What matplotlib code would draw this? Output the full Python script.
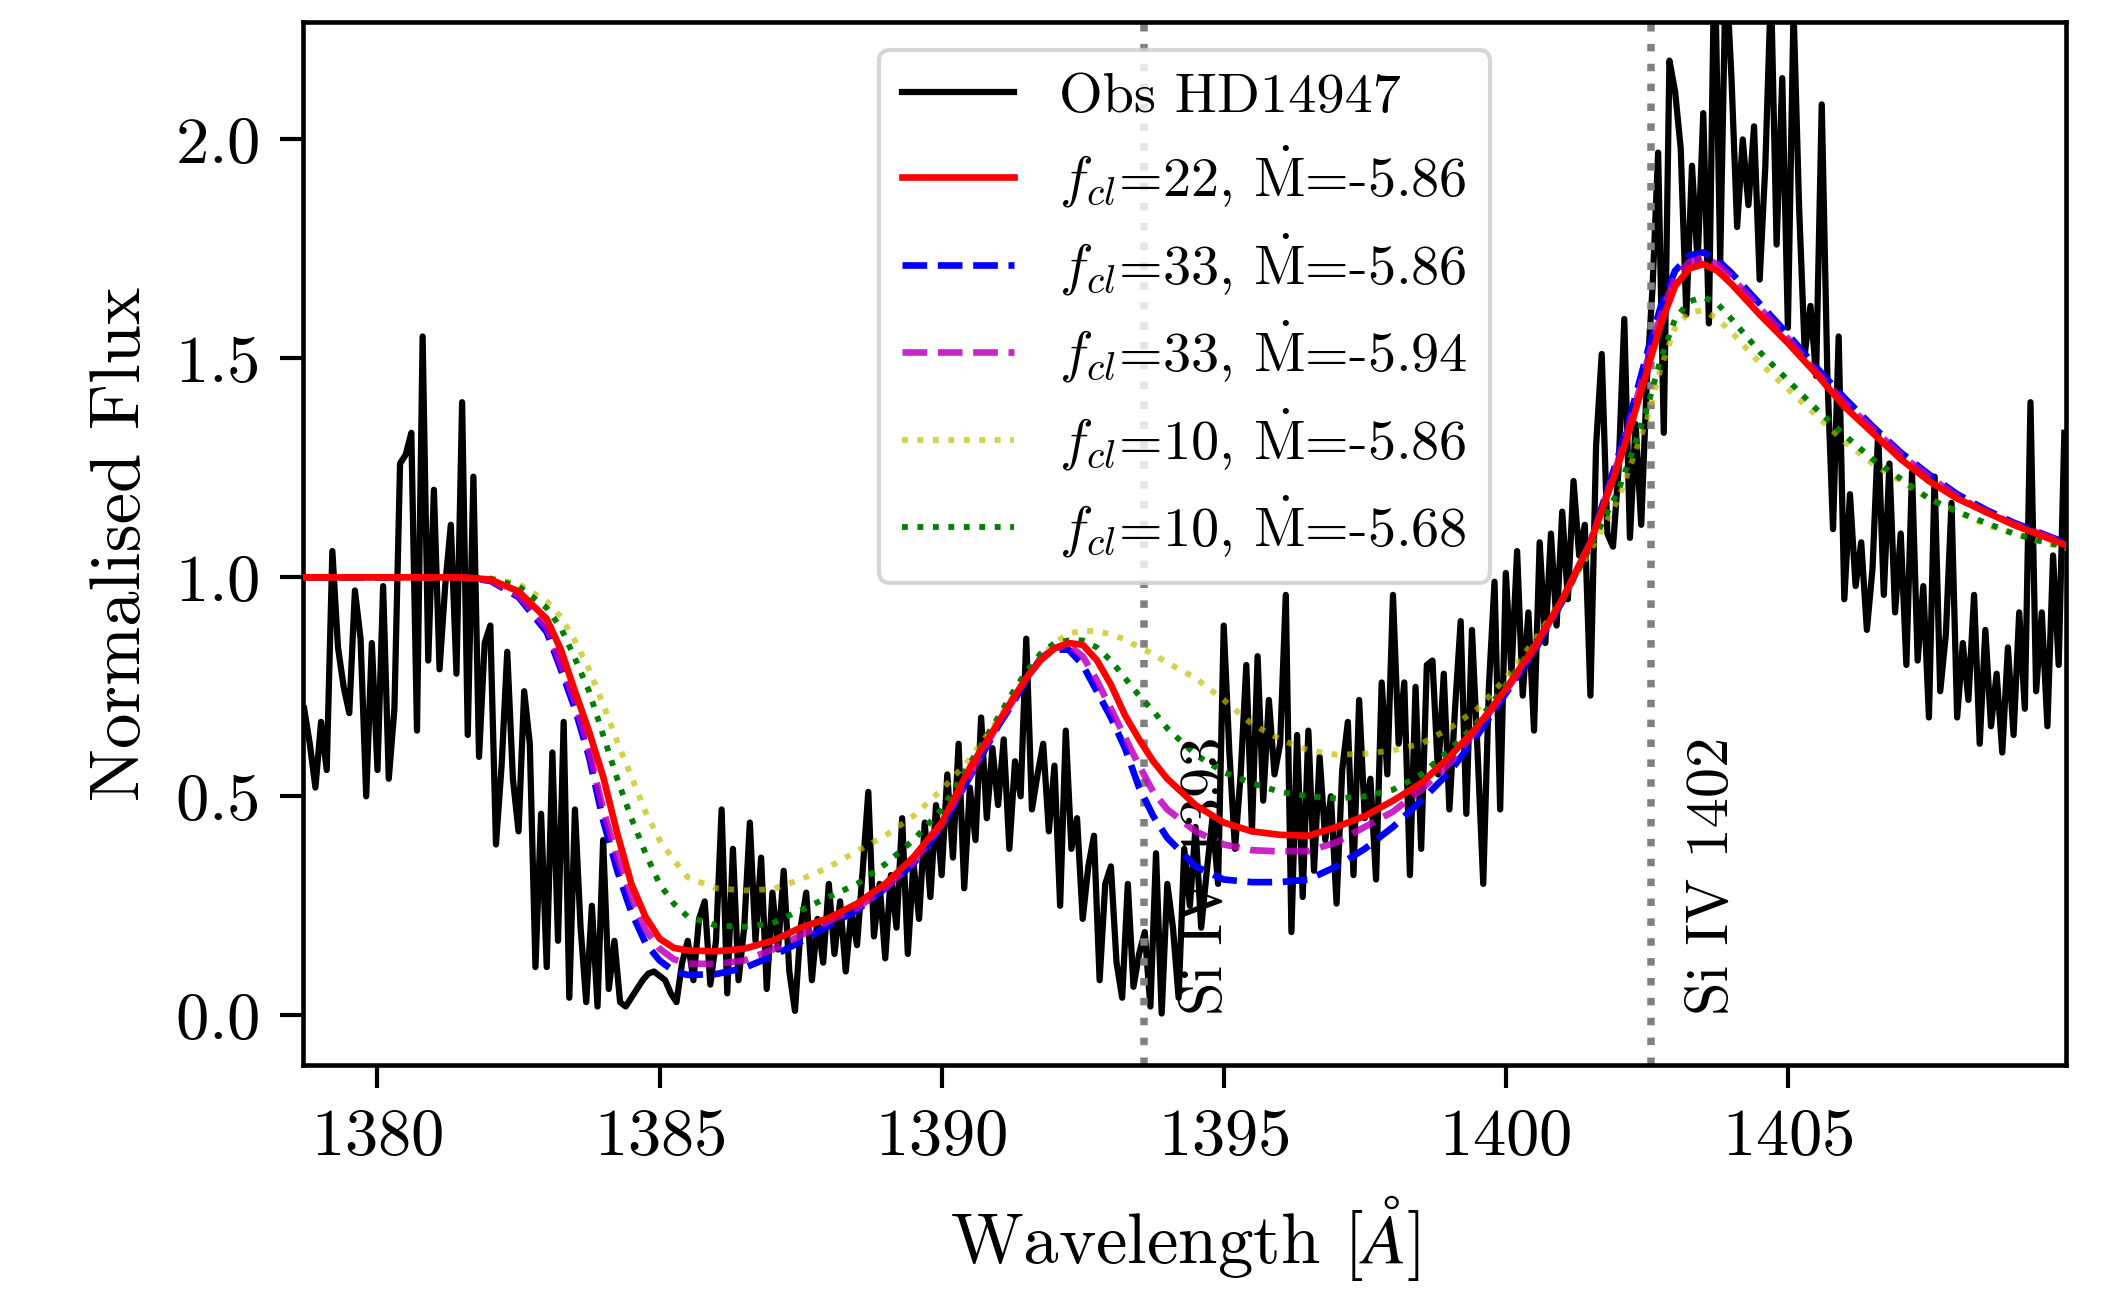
import numpy as np
import matplotlib
matplotlib.use("Agg")
from matplotlib import pyplot as plt

# observed spectrum, 0.1 A steps starting at 1378.7
obs_start = 1378.7
obs_step = 0.1
obs_flux = [
    # 1378.7 - 1387.5
    0.70, 0.62, 0.52, 0.67, 0.56, 1.06, 0.84, 0.75, 0.69, 0.97,
    0.86, 0.50, 0.85, 0.56, 0.98, 0.54, 0.70, 1.26, 1.28, 1.33,
    0.65, 1.55, 0.81, 1.20, 0.79, 0.98, 1.12, 0.78, 1.40, 0.64,
    1.23, 0.59, 0.85, 0.89, 0.39, 0.57, 0.83, 0.54, 0.42, 0.74,
    0.62, 0.11, 0.46, 0.11, 0.60, 0.17, 0.67, 0.04, 0.47, 0.20,
    0.03, 0.25, 0.02, 0.40, 0.06, 0.17, 0.03, 0.02,
    0.04, 0.06, 0.08, 0.095, 0.10, 0.09, 0.08, 0.05, 0.03,
    0.12, 0.17, 0.08, 0.22, 0.26, 0.07, 0.17, 0.47, 0.05, 0.38,
    0.08, 0.20, 0.44, 0.17, 0.36, 0.06, 0.28, 0.15, 0.33, 0.10,
    0.01, 0.20,
    # 1387.6 - 1396.2
    0.28, 0.08, 0.22, 0.12, 0.30, 0.14, 0.26, 0.10, 0.24, 0.16,
    0.33, 0.51, 0.18, 0.30, 0.13, 0.32, 0.20, 0.45, 0.14, 0.35,
    0.22, 0.44, 0.27, 0.48, 0.32, 0.55, 0.36, 0.62, 0.29, 0.52,
    0.40, 0.68, 0.45, 0.61, 0.48, 0.63, 0.38, 0.58, 0.50, 0.86,
    0.47, 0.55, 0.62, 0.42, 0.57, 0.25, 0.65, 0.38, 0.45, 0.22,
    0.34, 0.41, 0.08, 0.30, 0.34, 0.12, 0.04, 0.30, 0.065, 0.14,
    0.19, 0.02, 0.37, 0.004, 0.30, 0.20, 0.04, 0.38, 0.25, 0.43,
    0.20, 0.33, 0.45, 0.30, 0.89, 0.60, 0.38, 0.55, 0.80, 0.42,
    0.82, 0.49, 0.72, 0.55, 0.62, 0.96, 0.19,
    # 1396.3 - 1401.6
    0.64, 0.27, 0.65, 0.33, 0.59, 0.40, 0.50, 0.255, 0.56, 0.67,
    0.32, 0.72, 0.45, 0.54, 0.31, 0.76, 0.55, 0.96, 0.62, 0.76,
    0.32, 0.75, 0.38, 0.80, 0.81, 0.55, 0.78, 0.47, 0.70, 0.90,
    0.46, 0.88, 0.60, 0.30, 0.75, 0.99, 0.47, 1.01, 0.78, 1.06,
    0.73, 0.92, 0.65, 1.08, 0.85, 1.10, 0.89, 1.15, 0.95, 1.22,
    1.05, 1.12, 0.73, 1.30,
    # 1401.7 - 1409.9
    1.51, 1.10, 1.07, 1.25, 1.59, 1.09, 1.35, 1.12, 1.45, 1.66,
    1.97, 1.33, 2.18, 2.11, 1.98, 1.60, 1.94, 1.72, 2.06, 1.58,
    2.45, 1.72, 2.40, 2.14, 1.80, 2.00, 1.85, 2.03, 1.68, 1.94,
    2.35, 1.76, 2.14, 1.57, 2.30, 1.84, 1.51, 1.62, 1.46, 2.08,
    1.46, 1.11, 1.55, 0.95, 1.19, 0.98, 1.08, 0.88, 1.02, 1.33,
    0.96, 1.26, 0.92, 1.10, 0.80, 1.24, 0.81, 0.98, 0.68, 1.23,
    0.74, 0.87, 1.17, 0.68, 0.85, 0.72, 0.96, 0.62, 0.88, 0.66,
    0.78, 0.60, 0.84, 0.64, 0.92, 0.70, 1.40, 0.74, 0.92, 0.66,
    1.05, 0.80, 1.33,
]

# model wavelengths (shared by all models)
model_wave = [
    1378.7, 1379.5, 1380.5, 1381.5, 1382.0, 1382.5, 1383.0, 1383.25, 1383.5, 1383.75,
    1384.0, 1384.25, 1384.5, 1384.75, 1385.0, 1385.25, 1385.5, 1386.0, 1386.5, 1387.0,
    1387.5, 1388.0, 1388.5, 1389.0, 1389.5, 1390.0, 1390.5, 1391.0, 1391.25, 1391.5,
    1391.75, 1392.0, 1392.25, 1392.5, 1392.75, 1393.0, 1393.25, 1393.5, 1393.75, 1394.0,
    1394.5, 1395.0, 1395.5, 1396.0, 1396.5, 1397.0, 1397.5, 1398.0, 1398.5, 1399.0,
    1399.5, 1400.0, 1400.5, 1401.0, 1401.5, 1402.0, 1402.25, 1402.5, 1402.75, 1403.0,
    1403.25, 1403.5, 1403.75, 1404.0, 1404.5, 1405.0, 1405.5, 1406.0, 1406.5, 1407.0,
    1407.5, 1408.0, 1408.5, 1409.0, 1409.5, 1410.0,
]

fcl22_m586 = [
    1.0, 1.0, 1.0, 1.0, 0.995, 0.968, 0.905, 0.835, 0.740, 0.648,
    0.545, 0.415, 0.300, 0.225, 0.175, 0.154, 0.148, 0.146, 0.152, 0.170,
    0.200, 0.222, 0.255, 0.300, 0.361, 0.440, 0.565, 0.668, 0.720, 0.770,
    0.810, 0.838, 0.850, 0.846, 0.811, 0.755, 0.685, 0.630, 0.580, 0.540,
    0.480, 0.440, 0.420, 0.412, 0.410, 0.430, 0.455, 0.490, 0.530, 0.590,
    0.660, 0.745, 0.840, 0.950, 1.080, 1.260, 1.360, 1.470, 1.580, 1.665,
    1.705, 1.715, 1.700, 1.670, 1.600, 1.535, 1.465, 1.390, 1.330, 1.270,
    1.220, 1.180, 1.150, 1.120, 1.095, 1.070,
]
fcl33_m586 = [
    1.0, 1.0, 1.0, 1.0, 0.992, 0.955, 0.875, 0.790, 0.700, 0.590,
    0.445, 0.330, 0.235, 0.165, 0.125, 0.101, 0.092, 0.094, 0.108, 0.135,
    0.168, 0.205, 0.240, 0.290, 0.346, 0.430, 0.545, 0.660, 0.710, 0.765,
    0.815, 0.835, 0.835, 0.800, 0.740, 0.680, 0.610, 0.520, 0.455, 0.405,
    0.340, 0.310, 0.304, 0.304, 0.310, 0.340, 0.380, 0.430, 0.490, 0.555,
    0.640, 0.735, 0.830, 0.945, 1.080, 1.280, 1.390, 1.510, 1.620, 1.700,
    1.735, 1.742, 1.725, 1.695, 1.625, 1.555, 1.480, 1.410, 1.345, 1.285,
    1.235, 1.190, 1.155, 1.125, 1.100, 1.075,
]
fcl33_m594 = [
    1.0, 1.0, 1.0, 1.0, 0.993, 0.958, 0.885, 0.800, 0.715, 0.605,
    0.470, 0.360, 0.270, 0.195, 0.152, 0.128, 0.118, 0.117, 0.125, 0.150,
    0.182, 0.215, 0.245, 0.290, 0.350, 0.435, 0.550, 0.665, 0.715, 0.770,
    0.815, 0.838, 0.845, 0.820, 0.765, 0.700, 0.635, 0.570, 0.510, 0.470,
    0.420, 0.390, 0.377, 0.374, 0.375, 0.395, 0.430, 0.465, 0.515, 0.575,
    0.655, 0.740, 0.835, 0.948, 1.080, 1.270, 1.375, 1.490, 1.600, 1.685,
    1.720, 1.730, 1.715, 1.685, 1.615, 1.545, 1.470, 1.400, 1.340, 1.280,
    1.230, 1.185, 1.150, 1.122, 1.098, 1.073,
]
fcl10_m586 = [
    1.0, 1.0, 1.0, 1.0, 0.998, 0.985, 0.945, 0.910, 0.855, 0.790,
    0.710, 0.625, 0.545, 0.465, 0.400, 0.355, 0.315, 0.290, 0.285, 0.288,
    0.310, 0.338, 0.375, 0.410, 0.455, 0.515, 0.585, 0.675, 0.725, 0.770,
    0.815, 0.850, 0.872, 0.878, 0.877, 0.870, 0.858, 0.840, 0.825, 0.805,
    0.770, 0.720, 0.665, 0.630, 0.605, 0.595, 0.597, 0.605, 0.620, 0.655,
    0.700, 0.770, 0.855, 0.950, 1.060, 1.180, 1.270, 1.360, 1.480, 1.570,
    1.605, 1.610, 1.590, 1.560, 1.490, 1.430, 1.370, 1.310, 1.260, 1.220,
    1.180, 1.150, 1.120, 1.100, 1.080, 1.065,
]
fcl10_m568 = [
    1.0, 1.0, 1.0, 1.0, 0.997, 0.980, 0.930, 0.885, 0.815, 0.740,
    0.640, 0.540, 0.450, 0.370, 0.300, 0.255, 0.225, 0.205, 0.202, 0.210,
    0.240, 0.270, 0.300, 0.345, 0.400, 0.470, 0.575, 0.680, 0.735, 0.785,
    0.825, 0.850, 0.856, 0.856, 0.840, 0.810, 0.770, 0.730, 0.695, 0.655,
    0.595, 0.555, 0.530, 0.510, 0.500, 0.495, 0.500, 0.515, 0.550, 0.605,
    0.670, 0.755, 0.845, 0.945, 1.070, 1.200, 1.290, 1.385, 1.500, 1.590,
    1.630, 1.640, 1.625, 1.590, 1.515, 1.450, 1.385, 1.325, 1.270, 1.225,
    1.180, 1.150, 1.125, 1.100, 1.082, 1.068,
]

line_pos = [1393.58, 1402.58]
line_names = ["Si IV 1393", "Si IV 1402"]
label_pos = [1394.7, 1403.67]

plt.rcParams['font.family'] = 'serif'
plt.rcParams['font.serif'] = ['cmr10']
plt.rcParams['mathtext.fontset'] = 'cm'
plt.rcParams['axes.formatter.use_mathtext'] = True
plt.rcParams['axes.unicode_minus'] = False

obs_wave = obs_start + obs_step * np.arange(len(obs_flux))

fig = plt.figure(figsize=(2119 / 300, 1299 / 300), dpi=300)
ax = fig.add_axes([0.143, 0.180, 0.832, 0.803])

ax.plot(obs_wave, obs_flux, color='k', lw=1.5, label='Obs HD14947')
ax.plot(model_wave, fcl22_m586, color='r', lw=1.6, zorder=4,
        label=r'$f_{cl}$=22, $\dot{\mathrm{M}}$=-5.86')
ax.plot(model_wave, fcl33_m586, color='b', ls='--', lw=1.6, zorder=3,
        label=r'$f_{cl}$=33, $\dot{\mathrm{M}}$=-5.86')
ax.plot(model_wave, fcl33_m594, color='m', ls='--', lw=1.6, alpha=0.85, zorder=3,
        label=r'$f_{cl}$=33, $\dot{\mathrm{M}}$=-5.94')
ax.plot(model_wave, fcl10_m586, color='y', ls=':', lw=1.4, alpha=0.7, zorder=3,
        label=r'$f_{cl}$=10, $\dot{\mathrm{M}}$=-5.86')
ax.plot(model_wave, fcl10_m568, color='g', ls=':', lw=1.4, zorder=3,
        label=r'$f_{cl}$=10, $\dot{\mathrm{M}}$=-5.68')

for xp, name, tx in zip(line_pos, line_names, label_pos):
    ax.axvline(xp, color='gray', ls=':', lw=1.8)
    ax.text(tx, 0.0, name, rotation=90, ha='center', va='bottom', fontsize=14.5)

ax.set_xlim(1378.68, 1409.93)
ax.set_ylim(-0.114, 2.268)
ax.set_xticks([1380, 1385, 1390, 1395, 1400, 1405])
ax.set_yticks([0.0, 0.5, 1.0, 1.5, 2.0])
ax.tick_params(length=5.5, width=1.0, labelsize=16, pad=5)
for sp in ax.spines.values():
    sp.set_linewidth(1.1)

ax.set_xlabel(r'Wavelength [$\AA$]', fontsize=17, labelpad=6)
ax.set_ylabel('Normalised Flux', fontsize=17, labelpad=5)

ax.legend(loc='upper center', fontsize=13.5, labelspacing=0.38)

fig.savefig('out.png', dpi=300)
